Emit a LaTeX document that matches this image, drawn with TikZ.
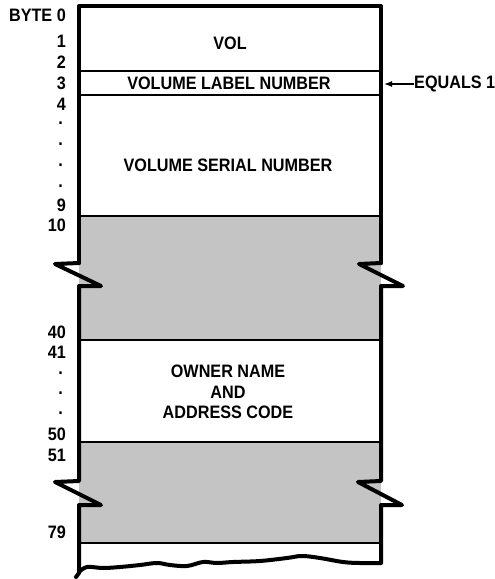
\documentclass[tikz,border=0pt]{standalone}
\usepackage{fontspec}
\setmainfont{Liberation Sans}[FakeStretch=0.9]
\usetikzlibrary{arrows.meta}
\begin{document}
\begin{tikzpicture}[x=1pt,y=-1pt,
  txt/.style={inner sep=0pt,font=\fontsize{18}{20.5}\selectfont\bfseries},
  lab/.style={txt,anchor=east},
  border/.style={line width=4pt,line join=round,line cap=round},
  rule/.style={line width=1.3pt},
  shade/.style={fill=black!23}]
\useasboundingbox (0,0) rectangle (495,579);
% shaded regions
\fill[shade] (79,216) rectangle (381,340);
\fill[shade] (79,442) rectangle (381,543);
% inner rules
\foreach \yy in {71,95,216,340,442,543}
  \draw[rule] (79,\yy) -- (381,\yy);
% outline
\draw[border] (79,263) -- (79,6) -- (381,6) -- (381,263);
\draw[border] (79,263) -- (55,264) -- (101,286) -- (79,286) -- (79,481)
  -- (55,482) -- (101,505) -- (79,505) -- (79,573) -- (76,577);
\draw[border] (381,263) -- (359,264) -- (403,286) -- (381,286) -- (381,481)
  -- (358,482) -- (402,505) -- (381,505) -- (381,563);
\draw[border,line width=4pt] plot[smooth,tension=0.6] coordinates {
  (381,563) (360,563) (343,562) (320,558) (302,556) (287,558) (260,561)
  (233,562) (217,563) (203,562) (187,566) (170,565) (157,563) (140,565)
  (120,567) (103,568) (87,567) (79,572)};
% field texts
\node[txt] (vol) at (230,43) {VOL};
\node[txt] (vln) at (229,83) {VOLUME LABEL NUMBER};
\node[txt] (vsn) at (228,165) {VOLUME SERIAL NUMBER};
\node[txt,align=center] (own) at (228,392) {OWNER NAME\\AND\\ADDRESS CODE};
% byte labels
\node[lab] (b0) at (66,15) {BYTE 0};
\node[lab] (b1) at (66,41) {1};
\node[lab] (b2) at (66,62) {2};
\node[lab] (b3) at (66,83) {3};
\node[lab] (b4) at (66,104) {4};
\node[lab] (d1) at (63,123) {.};
\node[lab] (d2) at (63,144) {.};
\node[lab] (d3) at (63,165) {.};
\node[lab] (d4) at (63,186) {.};
\node[lab] (b9) at (66,205) {9};
\node[lab] (b10) at (66,225) {10};
\node[lab] (b40) at (66,332) {40};
\node[lab] (b41) at (66,352) {41};
\node[lab] (d5) at (63,373) {.};
\node[lab] (d6) at (63,393) {.};
\node[lab] (d7) at (63,413) {.};
\node[lab] (b50) at (66,434) {50};
\node[lab] (b51) at (66,455) {51};
\node[lab] (b79) at (66,532) {79};
% equals 1 annotation
\node[txt,anchor=west] (eq) at (414,84) {EQUALS 1};
\coordinate (rb) at (384,84);
\draw[line width=1.3pt,-{Latex[length=8pt,width=6pt]}] (eq.west) -- (rb);
\end{tikzpicture}
\end{document}
